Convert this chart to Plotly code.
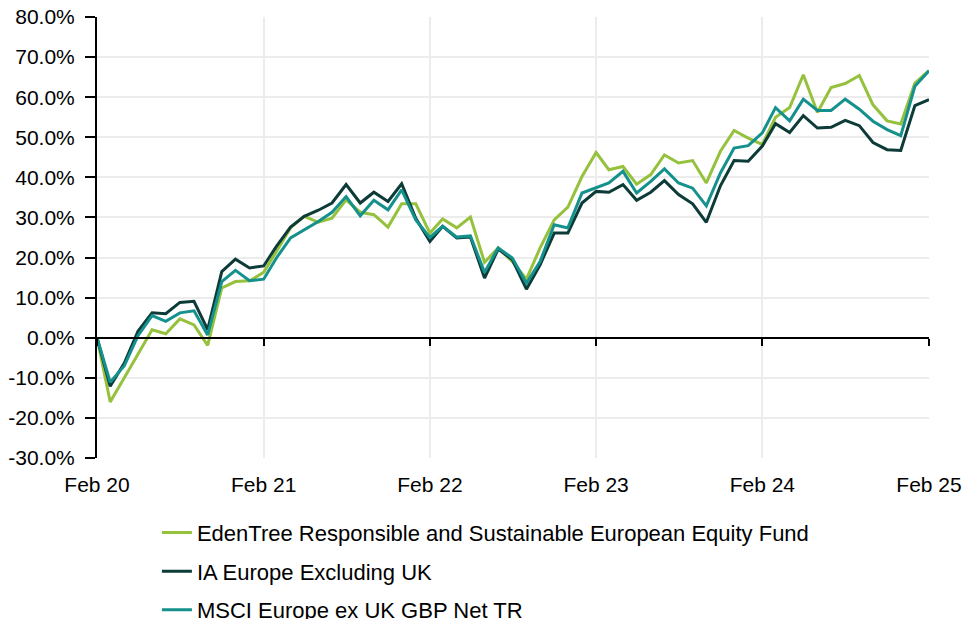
import pandas as pd
import plotly.graph_objects as go

dates = pd.date_range("2020-02-01", periods=61, freq="MS").strftime("%Y-%m-%d").tolist()

edentree = [0, -16.0, -10.0, -4.0, 2.0, 1.0, 4.7, 3.2, -1.9, 12.4, 14.0, 14.2,
            16.3, 21.5, 27.4, 30.3, 28.8, 29.8, 34.4, 31.3, 30.7, 27.6, 33.4, 33.4,
            26.1, 29.6, 27.4, 30.1, 18.8, 22.4, 19.0, 14.6, 22.4, 29.4, 32.6, 40.2,
            46.2, 41.9, 42.7, 38.3, 40.7, 45.6, 43.6, 44.2, 38.6, 46.5, 51.7, 49.8,
            48.2, 55.0, 57.4, 65.6, 56.2, 62.4, 63.4, 65.4, 58.1, 54.1, 53.3, 63.5,
            66.6]
ia_europe = [0, -12.1, -6.3, 1.6, 6.2, 6.0, 8.8, 9.1, 2.0, 16.5, 19.6, 17.4,
             17.9, 22.8, 27.6, 30.3, 31.8, 33.6, 38.2, 33.6, 36.3, 34.0, 38.4, 29.8,
             24.0, 27.8, 24.9, 25.1, 14.9, 22.1, 19.5, 12.1, 18.2, 26.1, 26.1, 33.6,
             36.5, 36.3, 38.2, 34.3, 36.3, 39.2, 35.7, 33.4, 28.8, 37.9, 44.2, 44.0,
             47.8, 53.4, 51.2, 55.4, 52.3, 52.5, 54.2, 52.9, 48.7, 46.9, 46.7, 57.9,
             59.4]
msci = [0, -11.1, -7.0, 0.5, 5.5, 4.1, 6.2, 6.7, 0.7, 14.0, 16.8, 14.2,
        14.6, 19.9, 24.9, 26.9, 29.0, 31.3, 35.2, 30.4, 34.3, 31.9, 36.9, 29.4,
        25.0, 27.8, 25.1, 25.4, 16.3, 22.4, 19.9, 13.6, 19.0, 28.2, 27.4, 36.1,
        37.4, 38.6, 41.5, 36.1, 39.0, 42.1, 38.6, 37.3, 32.9, 41.1, 47.3, 47.9,
        51.1, 57.4, 54.1, 59.5, 56.7, 56.7, 59.5, 57.0, 54.0, 51.9, 50.4, 62.7,
        66.6]

series_names = ["EdenTree Responsible and Sustainable European Equity Fund",
                "IA Europe Excluding UK",
                "MSCI Europe ex UK GBP Net TR"]
colors = ["#95c13d", "#0c3b38", "#14918d"]

x_tickvals = ["2020-02-01", "2021-02-01", "2022-02-01", "2023-02-01", "2024-02-01", "2025-02-01"]
x_ticktext = ["Feb 20", "Feb 21", "Feb 22", "Feb 23", "Feb 24", "Feb 25"]
y_tickvals = [-30, -20, -10, 0, 10, 20, 30, 40, 50, 60, 70, 80]
y_ticktext = [f"{v:.1f}%" for v in y_tickvals]

FONT = "Arial, Liberation Sans, sans-serif"

fig = go.Figure()
# invisible trace to host the zero-line axis
fig.add_trace(go.Scatter(x=dates, y=edentree, xaxis="x2", mode="lines",
                         line=dict(width=0, color="rgba(0,0,0,0)"),
                         showlegend=False, hoverinfo="skip"))
for name, vals, col in zip(series_names, [edentree, ia_europe, msci], colors):
    fig.add_trace(go.Scatter(x=dates, y=vals, name=name, mode="lines",
                             line=dict(color=col, width=3), legendgroup=name))

xr = ["2020-02-01", "2025-02-01"]
fig.update_layout(
    width=962, height=619,
    margin=dict(l=97, r=33, t=17, b=161, autoexpand=False),
    paper_bgcolor="white", plot_bgcolor="white",
    font=dict(family=FONT, size=21, color="#000000"),
    xaxis=dict(type="date", range=xr, tickvals=x_tickvals, ticktext=x_ticktext,
               showgrid=True, gridcolor="#ececec", gridwidth=2,
               showline=False, zeroline=False, automargin=False,
               ticks="outside", ticklen=8, tickcolor="rgba(0,0,0,0)",
               ticklabeloverflow="allow",
               tickfont=dict(size=21, family=FONT)),
    xaxis2=dict(type="date", range=xr, overlaying="x", anchor="free",
                position=30 / 110, tickvals=x_tickvals, showticklabels=False,
                showgrid=False, zeroline=False, showline=True, linecolor="black",
                linewidth=2, ticks="outside", ticklen=7, tickwidth=2,
                tickcolor="black", automargin=False),
    yaxis=dict(range=[-30, 80], tickvals=y_tickvals, ticktext=y_ticktext,
               showgrid=True, gridcolor="#ececec", gridwidth=2,
               zeroline=False, showline=True, linecolor="black", linewidth=2,
               ticks="outside", ticklen=10, tickwidth=2, tickcolor="black",
               ticklabelstandoff=6, ticklabeloverflow="allow",
               automargin=False, tickfont=dict(size=21, family=FONT)),
    legend=dict(x=0.072, xanchor="left", y=-0.122, yanchor="top",
                orientation="v", font=dict(size=22, family=FONT),
                tracegroupgap=7, bgcolor="rgba(0,0,0,0)"),
    showlegend=True,
)

fig.write_html(
    "out.html",
    config={"displayModeBar": False},
    post_script="document.body.style.margin='0';document.body.style.padding='0';"
                "document.body.style.overflow='hidden';",
)
